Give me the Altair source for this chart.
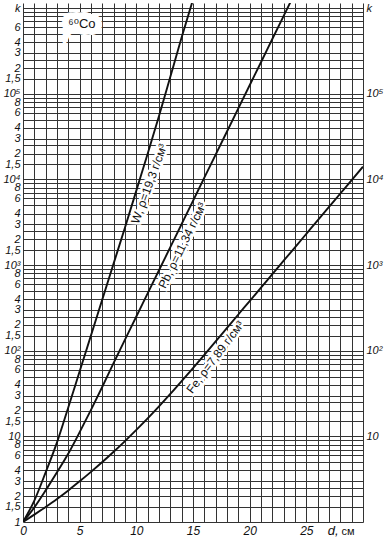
import json
import altair as alt
import pandas as pd

# ---- data (k versus d, cm) ----
d_w = list(range(0, 16))
k_w = [1, 1.78, 3.8, 8.5, 21.9, 57.5, 151, 398, 1047, 2754, 7413, 20000,
       55000, 158000, 457000, 1260000]

d_pb = list(range(0, 25))
k_pb = [1, 1.48, 2.34, 3.8, 6.3, 11.2, 20.4, 38, 72, 135, 251, 468, 871,
        1622, 3020, 5623, 10500, 19500, 36300, 67600, 126000, 234000,
        437000, 813000, 1510000]

d_fe = list(range(0, 31))
k_fe = [1, 1.22, 1.50, 1.86, 2.34, 2.99, 3.85, 5.01, 6.61, 8.81, 11.9, 16.2,
        22.4, 31.3, 44.2, 62.8, 89.7, 128.5, 184.5, 265, 380, 546, 783, 1125,
        1614, 2317, 3327, 4775, 6855, 9840, 14100]

curve_labels = ["W, ρ=19,3 г/см³", "Pb, ρ=11,34 г/см³", "Fe, ρ=7,89 г/см³"]
label_d = [10.3, 13.26, 16.26]
label_k = [9770, 1905, 99]
label_angle = [290, 296, 307]

x_grid = list(range(0, 31))
grid_mantissas = [1, 1.5, 2, 2.5, 3, 4, 5, 6, 7, 8, 9]
label_mantissas = [1, 1.5, 2, 3, 4, 6, 8]
decades = [0, 1, 2, 3, 4, 5]
sup = {2: "²", 3: "³", 4: "⁴", 5: "⁵"}

FONT = "Liberation Sans, DejaVu Sans"


def num(v):
    return int(round(v)) if abs(v - round(v)) < 1e-9 else v


def decade_name(n):
    if n == 0:
        return "1"
    if n == 1:
        return "10"
    return "10" + sup[n]


y_grid = [num(m * 10 ** n) for n in decades for m in grid_mantissas] + [1000000]

left_vals, left_text = [], []
for n in decades:
    for m in label_mantissas:
        if n == 5 and m == 8:
            continue
        left_vals.append(num(m * 10 ** n))
        left_text.append(decade_name(n) if m == 1 else str(m).replace(".", ","))
left_vals.append(1000000)
left_text.append("k")

right_vals = [10, 100, 1000, 10000, 100000, 1000000]
right_text = ["10", "10²", "10³", "10⁴", "10⁵", "k"]


def map_expr(vals, texts):
    v = json.dumps(vals)
    t = json.dumps(texts, ensure_ascii=False)
    return f"indexof({v}, datum.value) >= 0 ? {t}[indexof({v}, datum.value)] : ''"


rows = []
for name, ds, ks in [("W", d_w, k_w), ("Pb", d_pb, k_pb), ("Fe", d_fe, k_fe)]:
    for d, k in zip(ds, ks):
        rows.append({"material": name, "d": d, "k": k})
df = pd.DataFrame(rows)

xscale = alt.Scale(domain=[0, 30], nice=False, zero=False)
yscale = alt.Scale(type="log", domain=[1, 1150000], nice=False)

x_enc = alt.X("d:Q", scale=xscale, title="",
              axis=alt.Axis(values=x_grid, grid=True, ticks=False, tickSize=0,
                            domain=False,
                            labelExpr="datum.value % 5 == 0 && datum.value < 30 ? datum.value : ''",
                            labelFont=FONT, labelFontSize=12, labelFontStyle="italic",
                            labelColor="#111", labelPadding=3, labelFlush=False,
                            labelOverlap=False, gridColor="#333", gridWidth=1))

y_left = alt.Y("k:Q", scale=yscale, title="",
               axis=alt.Axis(orient="left", values=y_grid, grid=True, ticks=False, tickSize=0,
                             domain=False, labelExpr=map_expr(left_vals, left_text),
                             labelFont=FONT, labelFontSize=11, labelFontStyle="italic",
                             labelColor="#111", labelPadding=3, labelOverlap=False,
                             labelBound=False, labelFlush=False,
                             gridColor="#333", gridWidth=1))

x_plain = alt.X("d:Q", scale=xscale, axis=None)
y_plain = alt.Y("k:Q", scale=yscale, axis=None)

# grid + left/bottom axes layer (invisible point)
base_df = pd.DataFrame({"d": [0], "k": [1]})
base = alt.Chart(base_df).mark_point(opacity=0).encode(x=x_enc, y=y_left)

# right axis layer (invisible point)
right = alt.Chart(base_df).mark_point(opacity=0).encode(
    x=x_plain,
    y=alt.Y("k:Q", scale=yscale, title="",
            axis=alt.Axis(orient="right", values=right_vals, grid=False, ticks=False,
                          tickSize=0, domain=False, labelExpr=map_expr(right_vals, right_text),
                          labelFont=FONT, labelFontSize=11, labelFontStyle="italic",
                          labelColor="#111", labelPadding=3, labelAlign="left",
                          labelOverlap=False, labelBound=False, labelFlush=False)))

layers = [base, right]

for txt, ld, lk, ang in zip(curve_labels, label_d, label_k, label_angle):
    ldf = pd.DataFrame({"d": [ld], "k": [lk], "t": [txt]})
    for halo in (True, False):
        kw = dict(angle=ang, align="center", baseline="top", dy=5, font=FONT,
                  fontSize=12, color="#111")
        if halo:
            kw.update(stroke="white", strokeWidth=5, color="white")
        layers.append(alt.Chart(ldf).mark_text(**kw).encode(
            x=x_plain, y=y_plain, text="t:N"))

co_df = pd.DataFrame({"d": [5.2], "k": [650000], "t": ["⁶⁰Co"]})
for halo in (True, False):
    kw = dict(align="center", baseline="middle", font=FONT, fontSize=13, color="#111")
    if halo:
        kw.update(stroke="white", strokeWidth=14, color="white")
    layers.append(alt.Chart(co_df).mark_text(**kw).encode(
        x=x_plain, y=y_plain, text="t:N"))

# curves drawn above the label halos
lines = alt.Chart(df).mark_line(color="#111", strokeWidth=1.9, clip=True,
                                interpolate="monotone").encode(
    x=x_plain, y=y_plain, detail="material:N")
layers.append(lines)

unit_df = pd.DataFrame({"d": [26.9, 28.1], "t": ["d,", "см"]})
layers.append(alt.Chart(unit_df.iloc[[0]]).mark_text(
    align="left", baseline="middle", font=FONT, fontSize=13, fontStyle="italic",
    color="#111").encode(x=x_plain, y=alt.value(528), text="t:N"))
layers.append(alt.Chart(unit_df.iloc[[1]]).mark_text(
    align="left", baseline="middle", font=FONT, fontSize=11,
    color="#111").encode(x=x_plain, y=alt.value(529), text="t:N"))

chart = alt.layer(*layers).resolve_axis(x="independent", y="independent").properties(
    width=340, height=519,
    padding={"left": 23, "top": 3, "right": 22, "bottom": 16},
    autosize=alt.AutoSizeParams(type="none"),
    background="white",
).configure_view(stroke=None)

chart.save("out.html", embed_options={"renderer": "svg", "actions": False})
